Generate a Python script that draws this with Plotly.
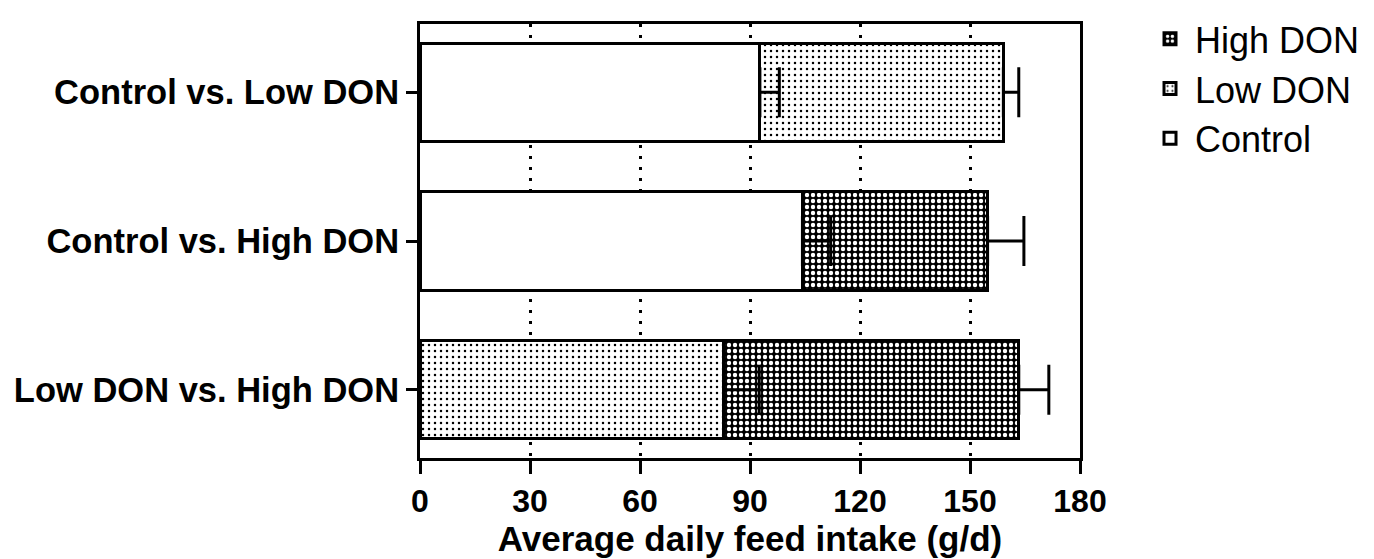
import numpy as np
import plotly.graph_objects as go

categories = ["Control vs. Low DON", "Control vs. High DON", "Low DON vs. High DON"]
control = [92.7, 104.3, None]
control_err = [5.3, 7.7, None]
low_don = [66.4, None, 82.8]
low_don_err = [4.2, None, 9.7]
high_don = [None, 50.5, 80.5]
high_don_err = [None, 9.9, 8.2]
x_ticks = [0, 30, 60, 90, 120, 150, 180]

def arr(v):
    return np.array([np.nan if a is None else a for a in v], dtype=float)

c = np.nan_to_num(arr(control))
l = np.nan_to_num(arr(low_don))
ends = {
    "Control": (arr(control), arr(control_err)),
    "Low DON": (c + arr(low_don), arr(low_don_err)),
    "High DON": (c + l + arr(high_don), arr(high_don_err)),
}

fig = go.Figure()
line = dict(color="black", width=3)
fig.add_trace(go.Bar(name="Control", y=categories, x=control, orientation="h",
                     marker=dict(color="white", line=line), legendrank=3, width=0.66))
fig.add_trace(go.Bar(name="Low DON", y=categories, x=low_don, orientation="h",
                     marker=dict(color="white", line=line,
                                 pattern=dict(shape=".", fgcolor="black", bgcolor="white",
                                              size=6, solidity=0.14, fillmode="replace")),
                     legendrank=2, width=0.66))
fig.add_trace(go.Bar(name="High DON", y=categories, x=high_don, orientation="h",
                     marker=dict(color="black", line=line,
                                 pattern=dict(shape=".", fgcolor="white", bgcolor="black",
                                              size=6, solidity=0.42, fillmode="replace")),
                     legendrank=1, width=0.66))

for name, (xe, err) in ends.items():
    fig.add_trace(go.Scatter(x=xe, y=categories, mode="markers",
                             marker=dict(size=1, color="rgba(0,0,0,0)"),
                             error_x=dict(type="data", array=err, arrayminus=np.zeros(len(err)),
                                          symmetric=False, color="black", thickness=3, width=25),
                             showlegend=False, hoverinfo="skip"))

fig.update_layout(
    barmode="stack",
    width=1374, height=559,
    margin=dict(l=412, r=302, t=16, b=109, autoexpand=False),
    paper_bgcolor="white", plot_bgcolor="white",
    font=dict(family="Liberation Sans, Arial, sans-serif", color="black"),
    legend=dict(x=1.0985, y=1.035, xanchor="left", yanchor="top",
                traceorder="normal",
                font=dict(size=36), itemwidth=40, bgcolor="rgba(0,0,0,0)"),
    showlegend=True,
)
fig.update_xaxes(range=[0, 180], tickvals=x_ticks, ticks="outside", ticklen=13, tickwidth=3,
                 tickcolor="black", showline=True, linecolor="black", linewidth=3, mirror=True,
                 showgrid=True, gridcolor="black", gridwidth=3, griddash="3px,8px",
                 tickfont=dict(size=32, family="Liberation Sans, Arial", weight="bold"),
                 title=dict(text="<b>Average daily feed intake (g/d)</b>", font=dict(size=35), standoff=3),
                 zeroline=False, automargin=False)
fig.update_yaxes(type="category", categoryorder="array", categoryarray=categories[::-1],
                 range=[-0.46, 2.46], ticks="outside", ticklen=11, tickwidth=3, tickcolor="black",
                 showline=True, linecolor="black", linewidth=3, mirror=True, showgrid=False,
                 tickfont=dict(size=34.5, weight="bold"), ticklabelstandoff=0, automargin=False)

fig.write_html("out.html")
